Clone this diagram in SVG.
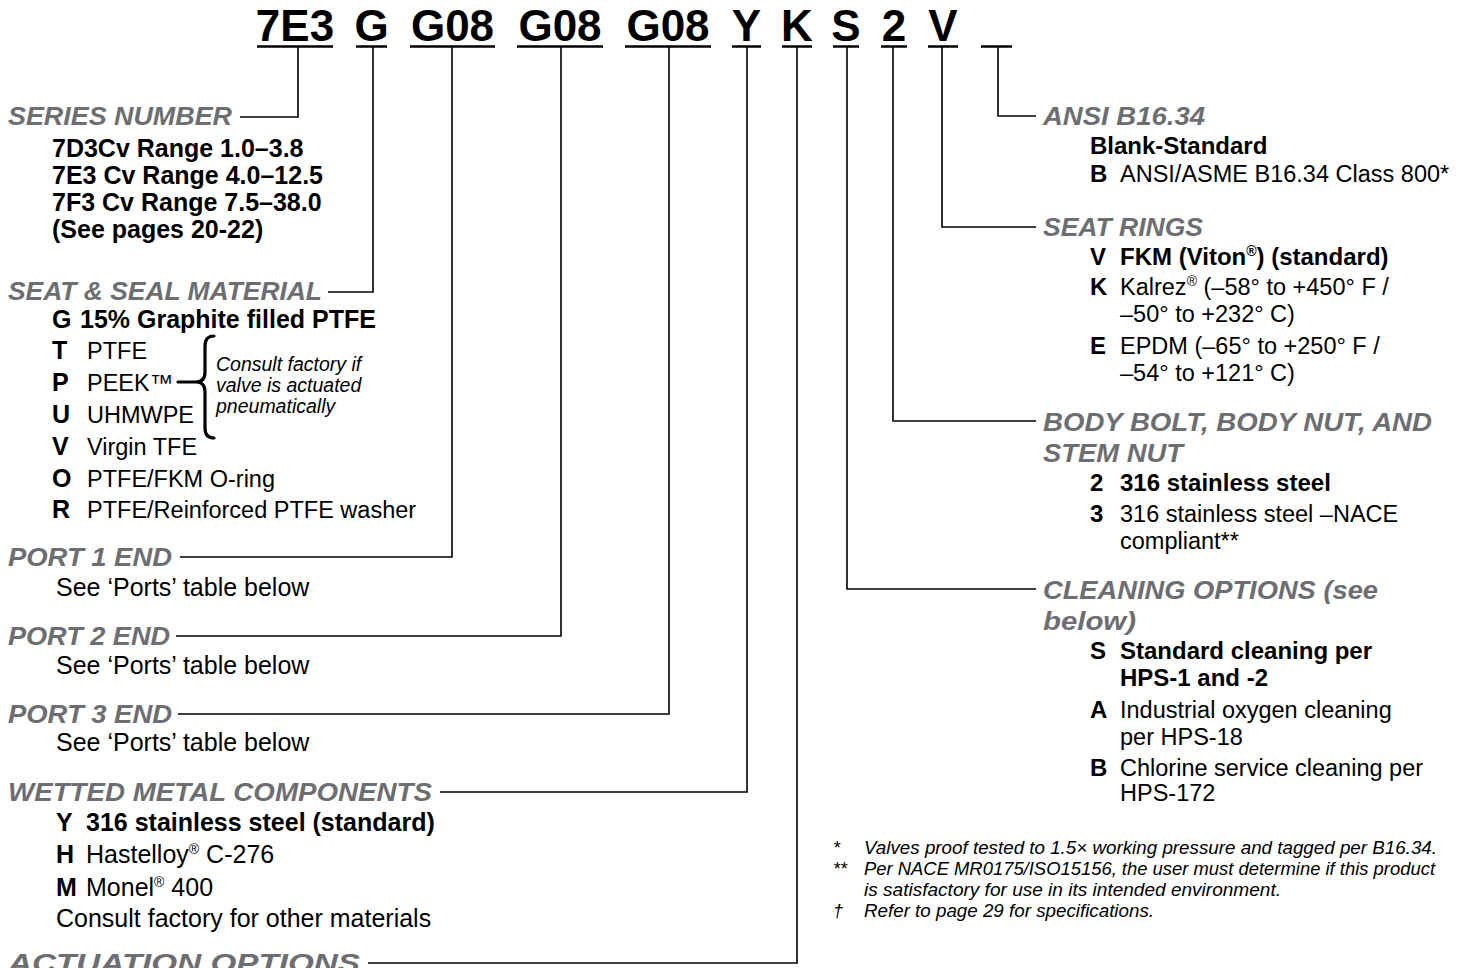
<svg xmlns="http://www.w3.org/2000/svg" width="1460" height="968" viewBox="0 0 1460 968">
<style>
text{font-family:"Liberation Sans",Arial,sans-serif;fill:#000}
.code{font-size:44px;font-weight:bold;text-anchor:middle}
.h{font-size:25px;font-weight:bold;font-style:italic;fill:#6d6e71}
.b{font-size:25px;font-weight:bold}
.br{font-size:24px;font-weight:bold}
.r{font-size:23.5px}
.rr{font-size:23.5px}
.n{font-size:25px}
.it{font-size:19.5px;font-style:italic}
.fn{font-size:18px;font-style:italic}
.ul{stroke:#000;stroke-width:2.5}
.cn{fill:none;stroke:#000;stroke-width:1.6}
</style>
<rect width="1460" height="968" fill="#fff"/>
<g id="code">
<text class="code" x="295" y="41">7E3</text>
<text class="code" x="371.5" y="41">G</text>
<text class="code" x="452.5" y="41">G08</text>
<text class="code" x="560" y="41">G08</text>
<text class="code" x="668" y="41">G08</text>
<text class="code" x="746.5" y="41">Y</text>
<text class="code" x="797" y="41">K</text>
<text class="code" x="846" y="41">S</text>
<text class="code" x="894" y="41">2</text>
<text class="code" x="943" y="41">V</text>
<line class="ul" x1="257" y1="46.5" x2="333" y2="46.5"/>
<line class="ul" x1="356" y1="46.5" x2="387" y2="46.5"/>
<line class="ul" x1="410" y1="46.5" x2="495" y2="46.5"/>
<line class="ul" x1="517" y1="46.5" x2="603" y2="46.5"/>
<line class="ul" x1="625" y1="46.5" x2="711" y2="46.5"/>
<line class="ul" x1="732" y1="46.5" x2="761" y2="46.5"/>
<line class="ul" x1="782" y1="46.5" x2="812" y2="46.5"/>
<line class="ul" x1="833" y1="46.5" x2="859" y2="46.5"/>
<line class="ul" x1="881" y1="46.5" x2="907" y2="46.5"/>
<line class="ul" x1="928" y1="46.5" x2="958" y2="46.5"/>
<line class="ul" x1="981" y1="46.5" x2="1012" y2="46.5"/>
</g>
<g id="connectors">
<polyline class="cn" points="298,47 298,117 240,117"/>
<polyline class="cn" points="373,47 373,292 328,292"/>
<polyline class="cn" points="452,47 452,557 180,557"/>
<polyline class="cn" points="561,47 561,636 176,636"/>
<polyline class="cn" points="669,47 669,714 178,714"/>
<polyline class="cn" points="747,47 747,792 440,792"/>
<polyline class="cn" points="797,47 797,963 368,963"/>
<polyline class="cn" points="847,47 847,589 1036,589"/>
<polyline class="cn" points="893,47 893,421 1036,421"/>
<polyline class="cn" points="942,47 942,227 1036,227"/>
<polyline class="cn" points="998,47 998,116 1036,116"/>
</g>
<g id="series-number">
<text class="h" x="8" y="125" textLength="224" lengthAdjust="spacingAndGlyphs">SERIES NUMBER</text>
<text class="b" x="52" y="157">7D3Cv Range 1.0–3.8</text>
<text class="b" x="52" y="184">7E3 Cv Range 4.0–12.5</text>
<text class="b" x="52" y="211">7F3 Cv Range 7.5–38.0</text>
<text class="b" x="52" y="238">(See pages 20-22)</text>
</g>
<g id="seat-seal-material">
<text class="h" x="8" y="300" textLength="314" lengthAdjust="spacingAndGlyphs">SEAT &amp; SEAL MATERIAL</text>
<text class="b" x="52" y="328">G</text><text class="b" x="80" y="328">15% Graphite filled PTFE</text>
<text class="b" x="52" y="359">T</text><text class="r" x="87" y="359">PTFE</text>
<text class="b" x="52" y="391">P</text><text class="r" x="87" y="391">PEEK™</text>
<text class="b" x="52" y="423">U</text><text class="r" x="87" y="423">UHMWPE</text>
<text class="b" x="52" y="455">V</text><text class="r" x="87" y="455">Virgin TFE</text>
<text class="b" x="52" y="487">O</text><text class="r" x="87" y="487">PTFE/FKM O-ring</text>
<text class="b" x="52" y="518">R</text><text class="r" x="87" y="518">PTFE/Reinforced PTFE washer</text>
<path d="M178 382 L196 382 M214 336 Q205 336 205 346 L205 372 Q205 382 196 382 Q205 382 205 392 L205 428 Q205 438 214 438" fill="none" stroke="#000" stroke-width="3.2" stroke-linecap="round" stroke-linejoin="round"/>
<text class="it" x="216" y="371">Consult factory if</text>
<text class="it" x="216" y="392">valve is actuated</text>
<text class="it" x="216" y="413">pneumatically</text>
</g>
<g id="port-1-end">
<text class="h" x="8" y="566" textLength="164" lengthAdjust="spacingAndGlyphs">PORT 1 END</text>
<text class="n" x="56" y="596">See ‘Ports’ table below</text>
</g>
<g id="port-2-end">
<text class="h" x="8" y="645" textLength="162" lengthAdjust="spacingAndGlyphs">PORT 2 END</text>
<text class="n" x="56" y="674">See ‘Ports’ table below</text>
</g>
<g id="port-3-end">
<text class="h" x="8" y="723" textLength="164" lengthAdjust="spacingAndGlyphs">PORT 3 END</text>
<text class="n" x="56" y="751">See ‘Ports’ table below</text>
</g>
<g id="wetted-metal-components">
<text class="h" x="8" y="801" textLength="424" lengthAdjust="spacingAndGlyphs">WETTED METAL COMPONENTS</text>
<text class="b" x="56" y="831">Y</text><text class="b" x="86" y="831">316 stainless steel (standard)</text>
<text class="b" x="56" y="863">H</text><text class="n" x="86" y="863">Hastelloy<tspan font-size="14" dy="-9">®</tspan><tspan dy="9"> C-276</tspan></text>
<text class="b" x="56" y="896">M</text><text class="n" x="86" y="896">Monel<tspan font-size="14" dy="-9">®</tspan><tspan dy="9"> 400</tspan></text>
<text class="n" x="56" y="927">Consult factory for other materials</text>
</g>
<g id="actuation-options">
<text class="h" x="8" y="972" textLength="352" lengthAdjust="spacingAndGlyphs">ACTUATION OPTIONS</text>
</g>
<g id="ansi-b16-34">
<text class="h" x="1043" y="125" textLength="162" lengthAdjust="spacingAndGlyphs">ANSI B16.34</text>
<text class="br" x="1090" y="154">Blank-Standard</text>
<text class="br" x="1090" y="182">B</text><text class="rr" x="1120" y="182">ANSI/ASME B16.34 Class 800*</text>
</g>
<g id="seat-rings">
<text class="h" x="1043" y="236" textLength="160" lengthAdjust="spacingAndGlyphs">SEAT RINGS</text>
<text class="br" x="1090" y="265">V</text><text class="br" x="1120" y="265">FKM (Viton<tspan font-size="14" dy="-9">®</tspan><tspan dy="9">) (standard)</tspan></text>
<text class="br" x="1090" y="295">K</text><text class="rr" x="1120" y="295">Kalrez<tspan font-size="14" dy="-9">®</tspan><tspan dy="9"> (–58° to +450° F /</tspan></text>
<text class="rr" x="1120" y="322">–50° to +232° C)</text>
<text class="br" x="1090" y="354">E</text><text class="rr" x="1120" y="354">EPDM (–65° to +250° F /</text>
<text class="rr" x="1120" y="381">–54° to +121° C)</text>
</g>
<g id="body-bolt">
<text class="h" x="1043" y="431" textLength="389" lengthAdjust="spacingAndGlyphs">BODY BOLT, BODY NUT, AND</text>
<text class="h" x="1043" y="462" textLength="140" lengthAdjust="spacingAndGlyphs">STEM NUT</text>
<text class="br" x="1090" y="491">2</text><text class="br" x="1120" y="491">316 stainless steel</text>
<text class="br" x="1090" y="522">3</text><text class="rr" x="1120" y="522">316 stainless steel –NACE</text>
<text class="rr" x="1120" y="549">compliant**</text>
</g>
<g id="cleaning-options">
<text class="h" x="1043" y="599" textLength="335" lengthAdjust="spacingAndGlyphs">CLEANING OPTIONS (see</text>
<text class="h" x="1043" y="630" textLength="93" lengthAdjust="spacingAndGlyphs">below)</text>
<text class="br" x="1090" y="659">S</text><text class="br" x="1120" y="659">Standard cleaning per</text>
<text class="br" x="1120" y="686">HPS-1 and -2</text>
<text class="br" x="1090" y="718">A</text><text class="rr" x="1120" y="718">Industrial oxygen cleaning</text>
<text class="rr" x="1120" y="745">per HPS-18</text>
<text class="br" x="1090" y="776">B</text><text class="rr" x="1120" y="776">Chlorine service cleaning per</text>
<text class="rr" x="1120" y="801">HPS-172</text>
</g>
<g id="footnotes">
<text class="fn" x="833" y="854">*</text><text class="fn" x="864" y="854" textLength="573" lengthAdjust="spacingAndGlyphs">Valves proof tested to 1.5× working pressure and tagged per B16.34.</text>
<text class="fn" x="833" y="875">**</text><text class="fn" x="864" y="875" textLength="571" lengthAdjust="spacingAndGlyphs">Per NACE MR0175/ISO15156, the user must determine if this product</text>
<text class="fn" x="864" y="896" textLength="417" lengthAdjust="spacingAndGlyphs">is satisfactory for use in its intended environment.</text>
<text class="fn" x="833" y="917">†</text><text class="fn" x="864" y="917" textLength="290" lengthAdjust="spacingAndGlyphs">Refer to page 29 for specifications.</text>
</g>
</svg>
